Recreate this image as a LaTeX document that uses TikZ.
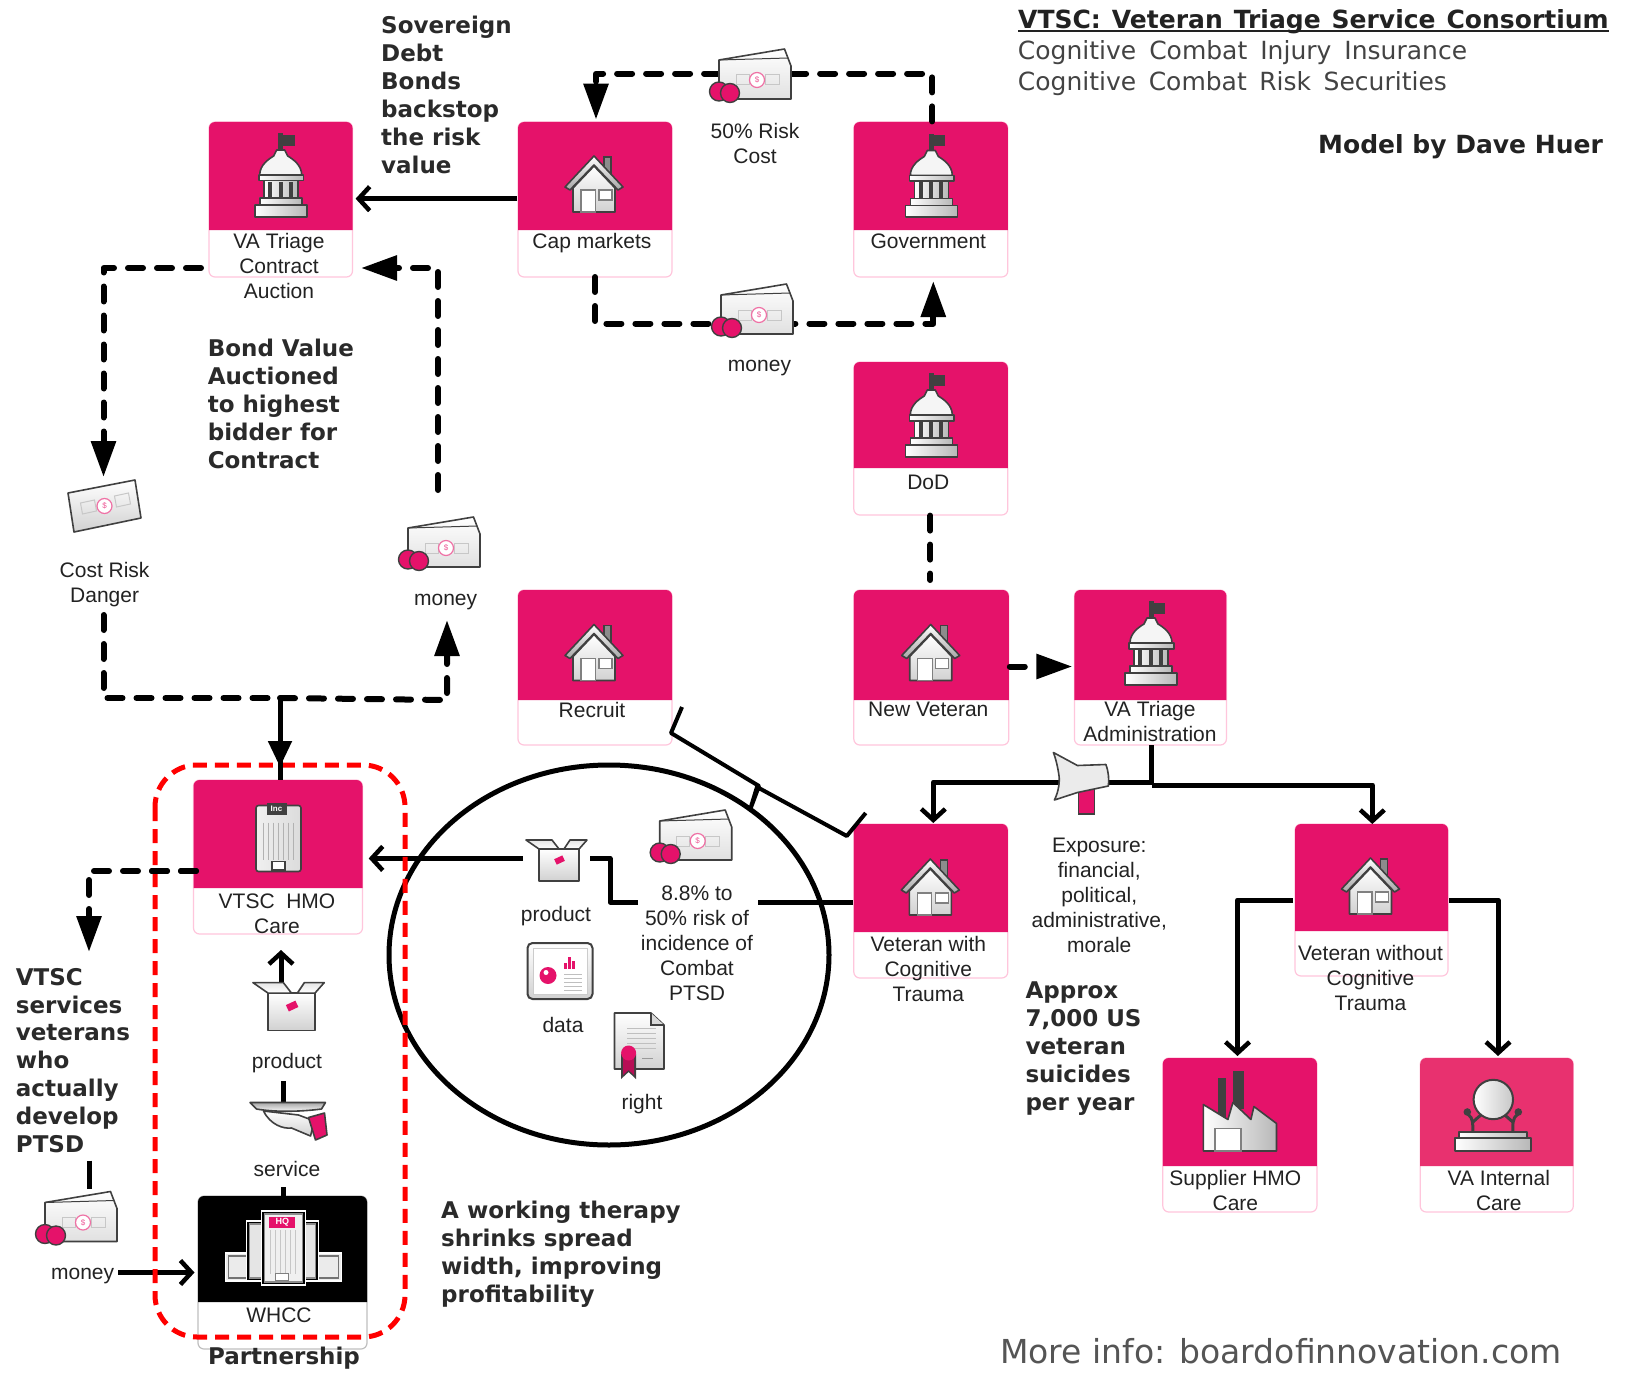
\documentclass[tikz,border=0pt]{standalone}
\usepackage{fontspec}
\setmainfont{Liberation Sans}
\newfontfamily\dv{DejaVu Sans}
\usetikzlibrary{arrows.meta,shapes.geometric}
\definecolor{cpink}{HTML}{E5126A}
\definecolor{clight}{HTML}{E8316F}
\definecolor{cedge}{HTML}{FFC6DC}
\definecolor{icline}{HTML}{404040}
\definecolor{txt}{HTML}{222222}
\definecolor{boldtxt}{HTML}{2A2A2A}
\definecolor{greytxt}{HTML}{555555}
\tikzset{
  card/.style={draw=cedge,line width=1.2pt,fill=white,rounded corners=6pt,inner sep=0pt},
  cardk/.style={draw=black!25,line width=1.2pt,fill=white,rounded corners=6pt,inner sep=0pt},
  lbl/.style={font=\fontsize{21}{25}\selectfont,align=center,inner sep=0pt,text=txt},
  boldlbl/.style={font=\dv\bfseries\fontsize{23}{27.9}\selectfont,align=left,inner sep=0pt,anchor=west,text=boldtxt},
  headlbl/.style={font=\dv\fontsize{25}{30}\selectfont,inner sep=0pt,anchor=west,text=txt!85!white},
  dashline/.style={line width=6pt,line cap=round,line join=round,dash pattern=on 15pt off 14pt},
  dasharrow/.style={dashline,-{Triangle[length=36pt,width=24pt]}},
  solidline/.style={line width=5pt,line join=round},
  barbarrow/.style={solidline,-{Straight Barb[length=11pt,width=24pt,line width=4.5pt]}},
  triarrow/.style={solidline,-{Triangle[length=26pt,width=23pt]}},
  icn/.style={draw=icline,line width=1.6pt,line join=round,top color=white,bottom color=black!18},
  icnh/.style={draw=icline,line width=1.6pt,line join=round,left color=white,right color=black!28},
  capitolicon/.pic={
    \fill[icline] (-2.5,-41.7) rectangle (2.7,-20);
    \fill[icline] (2.7,-40) rectangle (14,-29);
    \path[draw=icline,line width=1.6pt,line join=round,fill=black!4] (-21,0) .. controls (-21,-10) and (-12,-16) .. (-7,-19) -- (-4,-25) -- (4,-25) -- (7,-19) .. controls (12,-16) and (21,-10) .. (21,0) -- cycle;
    \path[icnh] (-22,0) rectangle (22.7,5.7);
    \path[icnh] (-17,5.7) rectangle (17,24);
    \foreach \cx in {-10.7,0,10} {\fill[icline] (\cx-2,7) rectangle (\cx+2,23);}
    \path[icnh] (-21,23) rectangle (21,30);
    \path[icnh] (-26,30) rectangle (26,41.7);
  },
  houseicon/.pic={
    \draw[icline,fill=black!45,line width=1.2pt] (10,-27) rectangle (17,-10);
    \path[icn] (-21,4) -- (0,-18) -- (21,4) -- (21,28) -- (-21,28) -- cycle;
    \path[icn,bottom color=black!35] (-29,3) -- (0,-28) -- (29,3) -- (24,6) -- (0,-19) -- (-24,6) -- cycle;
    \draw[black!50,line width=1.2pt,fill=white] (-13,6) rectangle (1.5,28);
    \draw[black!50,line width=1.2pt,fill=white] (5,6) rectangle (18,16);
  },
  moneyicon/.pic={
    \path[icn,top color=white,bottom color=black!12] (-31,-16) -- (34.5,-27) -- (41,-10) -- (41,23) -- (-31,23) -- cycle;
    \draw[icline,line width=1pt] (-31,-16) -- (38,-18);
    \draw[black!22,line width=1pt] (-14,-1) rectangle (-1,9);
    \draw[black!22,line width=1pt] (15,-1) rectangle (29,9);
    \draw[cpink!60,line width=1.2pt,fill=white] (7,4) circle[radius=7.5];
    \node[inner sep=0pt,text=cpink!70,font=\fontsize{8}{8}\selectfont] (dollar) at (7,4) {\$};
    \draw[icline,line width=1.4pt,fill=cpink] (-31,15.5) circle[radius=9.5];
    \draw[icline,line width=1.4pt,fill=cpink] (-20,17) circle[radius=9.5];
  },
  billicon/.pic={
    \path[icn] (-36.5,-13) -- (30.5,-26) -- (36.5,12) -- (-30.5,26) -- cycle;
    \draw[black!22,line width=1pt] (-24,-3) -- (-10,-6) -- (-8,5) -- (-22,8) -- cycle;
    \draw[black!22,line width=1pt] (10,-10) -- (24,-13) -- (26,-2) -- (12,1) -- cycle;
    \draw[cpink!60,line width=1.2pt,fill=white] (0,0) circle[radius=7.5];
    \node[inner sep=0pt,text=cpink!70,font=\fontsize{8}{8}\selectfont] (dollar) at (0,0) {\$};
  },
  boxicon/.pic={
    \path[icn] (-17,-11) rectangle (23,21);
    \path[icn,top color=black!10,bottom color=white] (-30,-20) -- (-4,-20) -- (3,-11) -- (-17,-11) -- cycle;
    \path[icn,top color=black!10,bottom color=white] (14,-20) -- (31,-20) -- (23,-11) -- (8,-11) -- cycle;
    \fill[cpink,rotate around={25:(3.6,0)}] (-1,-3) rectangle (8,3);
  },
  dataicon/.pic={
    \draw[icline,line width=2pt,rounded corners=5pt,top color=white,bottom color=black!18] (-32.5,-28) rectangle (32.5,28);
    \draw[black!20,line width=1pt,fill=white] (-27,-23) rectangle (27,23);
    \fill[cpink] (-12,4.5) circle[radius=8.5];
    \fill[white] (-14,1.5) circle[radius=2.5];
    \fill[cpink] (4,-8) rectangle (7,-2);
    \fill[cpink] (8,-14) rectangle (11,-2);
    \fill[cpink] (12,-10) rectangle (15,-2);
    \foreach \ly in {3,7,11,15,19} {\draw[black!25,line width=1pt] (4,\ly) -- (22,\ly);}
  },
  certicon/.pic={
    \path[icn] (-24.5,-33) -- (12,-33) -- (25,-21) -- (25,23) -- (-24.5,23) -- cycle;
    \draw[icline,line width=1.2pt,fill=black!15] (12,-33) -- (12,-21) -- (25,-21);
    \foreach \ly in {-18,-13,-8,-3,2} {\draw[black!25,line width=1pt] (-12,\ly) -- (17,\ly);}
    \draw[black!40,line width=1pt] (3,12) -- (14,12);
    \fill[icline] (-18,8) -- (-18,33) -- (-10.4,26) -- (-3,33) -- (-3,8) -- cycle;
    \fill[cpink!80!black] (-16,10) -- (-16,29) -- (-10.4,24) -- (-5,29) -- (-5,10) -- cycle;
    \fill[cpink] (-10.4,7) circle[radius=7.5];
  },
  trayicon/.pic={
    \path[icn] (-25,-10) .. controls (-18,4) and (-5,8) .. (3,7) -- (22,15) -- (26,0) -- (10,-6) -- cycle;
    \path[icn,fill=cpink,top color=cpink,bottom color=cpink] (20,-3.5) -- (36,-8) -- (38.5,14) -- (27,19) -- cycle;
    \path[icn,top color=black!35,bottom color=white] (-38.5,-18.5) -- (37,-18.5) -- (33,-12) .. controls (10,-9) and (-15,-9) .. (-32,-12) -- cycle;
  },
  megaicon/.pic={
    \fill[cpink] (-1.5,9) -- (14.5,6) -- (14.5,31) -- (-1.5,31) -- cycle;
    \draw[icline,line width=1.6pt] (-1.5,9) -- (-1.5,31) -- (14.5,31) -- (14.5,6);
    \path[draw=icline,line width=1.6pt,line join=round,fill=black!8] (-2.5,-17.5) -- (26,-18.5) .. controls (29,-10) and (29,-4) .. (28.5,3) -- (-2.5,9.5) -- (-25.5,17) .. controls (-21,8) and (-20,-2) .. (-21,-8) .. controls (-22,-15) and (-24,-24) .. (-26.5,-30.5) -- cycle;
  },
  factoryicon/.pic={
    \fill[icline] (-22,-33) rectangle (-14,8);
    \fill[icline] (-7,-40) rectangle (4,-2);
    \path[icnh] (-36.6,-6) -- (-12,9) -- (-7,-8) -- (11,9) -- (14,-4) -- (36.6,13) -- (36.6,40.5) -- (-36.6,40.5) -- cycle;
    \draw[black!50,line width=1.2pt,fill=white] (-25,17.6) rectangle (1,40.5);
  },
  mirroricon/.pic={
    \draw[icline,line width=3pt] (-25,2) .. controls (-19,6) and (-20,14) .. (-20,20);
    \draw[icline,line width=3pt] (25,2) .. controls (19,6) and (20,14) .. (20,20);
    \draw[icline,line width=3pt] (-20,10) -- (-12,3);
    \draw[icline,line width=3pt] (20,10) -- (12,3);
    \fill[icline] (-25.5,0) circle[radius=3.8];
    \fill[icline] (25.5,0) circle[radius=3.8];
    \path[icnh,line width=2pt,left color=white,right color=black!22] (0.5,-12.5) circle[radius=19.7];
    \path[icnh] (-34,20) rectangle (34,26);
    \path[icnh] (-38,26) rectangle (38,39);
  },
  towericon/.pic={
    \path[icn,left color=black!6,right color=black!14,draw=icline,rounded corners=2.5pt] (-22,-31) rectangle (23,35);
    \foreach \tx in {-15,-10,-5,0,5,10,15} {\draw[black!30,line width=1pt] (\tx,-14) -- (\tx,23);}
    \fill[icline] (-11.5,-33.5) rectangle (8.5,-21.5);
    \node[inner sep=0pt,text=white,font=\bfseries\fontsize{8}{8}\selectfont] (incname) at (-1.5,-27.5) {Inc};
    \draw[icline,line width=1.2pt,fill=white] (-6,25) rectangle (7,33.5);
  },
  hqicon/.pic={
    \draw[white,line width=1.4pt,fill=black!8] (-58,5) rectangle (58,33);
    \draw[black!55,line width=1.4pt] (-55,8) rectangle (55,30);
    \draw[white,line width=1.4pt,fill=black] (-37,-27) rectangle (35,33);
    \draw[black!45,line width=1.4pt,fill=black!10] (-34,-24) rectangle (32,30);
    \draw[white,line width=1.4pt,fill=black] (-22,-37) rectangle (22,37);
    \draw[black!45,line width=1.4pt,fill=black!6] (-19,-34) rectangle (19,34);
    \foreach \tx in {-13,-8,-3,2,7,12} {\draw[black!22,line width=1pt] (\tx,-18) -- (\tx,26);}
    \fill[cpink] (-14,-31) rectangle (12,-20);
    \node[inner sep=0pt,text=white,font=\bfseries\fontsize{9}{9}\selectfont] (hqname) at (-1,-25.5) {HQ};
    \draw[black!50,line width=1pt,fill=white] (-8,25) rectangle (5,32);
  },
}
\newcommand{\vcard}[7]{%
  \node[card,minimum width={(#4-#2)*1pt},minimum height={(#5-#3)*1pt}] (#1) at ({(#2+#4)/2},{(#3+#5)/2}) {};
  \fill[#7] (#2,#6) {[rounded corners=6pt] -- (#2,#3) -- (#4,#3)} -- (#4,#6) -- cycle;
}
\begin{document}
\begin{tikzpicture}[x=1pt,y=-1pt]
\useasboundingbox (0,0) rectangle (1635,1375);
\fill[white] (0,0) rectangle (1635,1375);
% cards
\vcard{auction}{209}{122}{352.5}{277}{230}{cpink}
\vcard{cap}{518}{122}{672}{277}{230}{cpink}
\vcard{gov}{853.8}{122}{1007.8}{277}{230}{cpink}
\vcard{dod}{853.8}{362}{1007.8}{515}{468}{cpink}
\vcard{recruit}{518}{590}{672}{745}{700}{cpink}
\vcard{newvet}{853.8}{590}{1008.8}{745}{700}{cpink}
\vcard{admin}{1074.4}{590}{1226.4}{745}{700}{cpink}
\vcard{vetwith}{853.8}{824}{1007.8}{978}{932}{cpink}
\vcard{vetwo}{1295}{824}{1448}{976}{931}{cpink}
\vcard{supplier}{1162.8}{1058}{1316.9}{1212}{1166}{cpink}
\vcard{internal}{1420.2}{1058}{1573.3}{1212}{1166}{clight}
\vcard{hmo}{193.5}{780}{362.5}{934}{888}{cpink}
\node[cardk,minimum width=169pt,minimum height=153pt] (whcc) at (282.5,1272.5) {};
\fill[black] (198,1302) {[rounded corners=6pt] -- (198,1196) -- (367,1196)} -- (367,1302) -- cycle;
% circle
\node[draw,ellipse,line width=5pt,minimum width=440pt,minimum height=380pt,inner sep=0pt] (circ) at (609,955) {};
% named anchors
\coordinate (mtop) at (750,73.6);
\coordinate (mlow) at (752,323.6);
\coordinate (jleft) at (280,698);
\coordinate (bottomleft) at (103.5,698);
\coordinate (moneyfoot) at (447,620);
\coordinate (costfoot) at (103.5,615);
\coordinate (billtop) at (103.5,477);
\coordinate (mhead) at (438,490);
\coordinate (lefthit) at (201,268);
\coordinate (righthit) at (361,268);
\coordinate (hmohit) at (196,871);
\coordinate (downtip) at (89,952);
\coordinate (prodl) at (523,858.4);
\coordinate (prodr) at (590,858.4);
\coordinate (prodk) at (610,858.4);
\coordinate (riskl) at (638,902);
\coordinate (riskk) at (610,902);
\coordinate (riskr) at (758,902);
\coordinate (moneyline) at (118,1272.5);
% connectors
\draw[dasharrow] ([xshift=1.5pt]gov.north) |- (mtop) -| (596,119.6);
\draw[dasharrow] (595,277) |- (mlow) -| (933.3,281);
\draw[solidline,-{Straight Barb[length=11pt,width=24pt,line width=4.5pt]}] (cap.west |- 0,198.7) -- (355.6,198.7);
\draw[dasharrow] (lefthit) -| (billtop);
\draw[dasharrow] (mhead) |- (righthit);
\draw[dashline] (costfoot) -- (bottomleft) -- (jleft);
\draw[dasharrow] (jleft) -- (447,700) -- (moneyfoot);
\draw[triarrow] (jleft) -- (280,767);
\draw[solidline] (280,760) -- (280,780);
\draw[dashline] (dod.south -| 930.3,0) -- (930.3,580);
\draw[dasharrow] (1009.8,666.5) -- (1072.3,666.5);
\draw[solidline] (1151.6,745) -- (1151.6,785);
\draw[barbarrow] (1151.6,782) -| (933.3,823);
\draw[barbarrow] (1151.6,785) -| (1372.3,824);
\draw[barbarrow] (1293,900) -| (1237.5,1056);
\draw[barbarrow] (1449,900) -| (1498,1056);
\draw[line width=4pt,line join=round] (682,707) -- (671,733) -- (759,786) -- (750,810) -- (757,787) -- (846.8,836) -- (865.7,813);
\draw[solidline] (vetwith.west |- riskr) -- (riskr);
\draw[solidline] (riskl) -- (riskk) -- (prodk) -- (prodr);
\draw[barbarrow] (prodl) -- (368.7,858.4);
\draw[dasharrow] (hmohit) -| (downtip);
\draw[solidline] (89.5,1160.6) -- (89.5,1188.6);
\draw[barbarrow] (moneyline) -- (194.5,1272.5);
\draw[barbarrow] (281,982) -- (281,950);
\draw[solidline] (283,1081) -- (283,1102);
\draw[solidline] (283,1187) -- (283,1196);
% red partnership frame
\draw[red,line width=5pt,rounded corners=42pt,dash pattern=on 14pt off 8pt] (155,765) rectangle (405,1337);
\draw[dashline] (196,871) -- (150,871);
\draw[solidline] (280,760) -- (280,780);
% icons
\pic at (280.7,175) {capitolicon};
\pic at (931.3,175.5) {capitolicon};
\pic at (931.3,415) {capitolicon};
\pic at (1151,643) {capitolicon};
\pic at (594,184) {houseicon};
\pic at (594,652.5) {houseicon};
\pic at (930.7,652.5) {houseicon};
\pic at (930.3,887) {houseicon};
\pic at (1370.5,886) {houseicon};
\pic at (750,76) {moneyicon};
\pic at (752,311) {moneyicon};
\pic at (439,544) {moneyicon};
\pic at (690.7,837) {moneyicon};
\pic at (76,1218.5) {moneyicon};
\pic at (104.5,506) {billicon};
\pic at (556,860) {boxicon};
\pic[scale=1.17] at (288,1006) {boxicon};
\pic at (560,971) {dataicon};
\pic at (639,1046) {certicon};
\pic at (288.5,1121) {trayicon};
\pic at (1079.9,783) {megaicon};
\pic at (1239.9,1110.5) {factoryicon};
\pic at (1492.8,1112) {mirroricon};
\pic at (278,836.5) {towericon};
\pic at (283.3,1248) {hqicon};
% card labels
\node[lbl] (t1) at (279,266) {VA Triage\\Contract\\Auction};
\node[lbl] (t2) at (592,243.5) {Cap markets};
\node[lbl] (t3) at (928.3,241.5) {Government};
\node[lbl] (t4) at (928.3,482) {DoD};
\node[lbl] (t5) at (592,709.5) {Recruit};
\node[lbl] (t6) at (928.3,709.5) {New Veteran};
\node[lbl] (t7) at (1150,721.5) {VA Triage\\Administration};
\node[lbl] (t8) at (928.3,968.6) {Veteran with\\Cognitive\\Trauma};
\node[lbl] (t9) at (1370.5,978) {Veteran without\\Cognitive\\Trauma};
\node[lbl] (t10) at (1235.4,1190) {Supplier HMO\\Care};
\node[lbl] (t11) at (1498.8,1190) {VA Internal\\Care};
\node[lbl] (t12) at (277,914) {VTSC\ \ HMO\\Care};
\node[lbl] (t13) at (279,1315) {WHCC};
% offering labels
\node[lbl] (t14) at (755,143.5) {50\% Risk\\Cost};
\node[lbl] (t15) at (759.5,368) {money};
\node[lbl] (t16) at (104.6,584.5) {Cost Risk\\Danger};
\node[lbl] (t17) at (445.6,602.5) {money};
\node[lbl] (t18) at (1099.3,895) {Exposure:\\financial,\\political,\\administrative,\\morale};
\node[lbl] (t19) at (287,1063) {product};
\node[lbl] (t20) at (287,1169) {service};
\node[lbl] (t21) at (82.6,1276.5) {money};
\node[lbl] (t22) at (556,916) {product};
\node[lbl] (t23) at (563,1025) {data};
\node[lbl] (t24) at (642,1104.5) {right};
\node[lbl] (t25) at (697,943.5) {8.8\% to\\50\% risk of\\incidence of\\Combat\\PTSD};
% bold notes
\node[boldlbl] (b1) at (381,95) {Sovereign\\Debt\\Bonds\\backstop\\the risk\\value};
\node[boldlbl] (b2) at (207.6,404) {Bond Value\\Auctioned\\to highest\\bidder for\\Contract};
\node[boldlbl] (b3) at (1025.3,1048.5) {Approx\\7,000 US\\veteran\\suicides\\per year};
\node[boldlbl] (b4) at (15.7,1060.5) {VTSC\\services\\veterans\\who\\actually\\develop\\PTSD};
\node[boldlbl] (b5) at (441,1254.5) {A working therapy\\shrinks spread\\width, improving\\profitability};
\node[boldlbl,anchor=center] (b6) at (284,1358.5) {Partnership};
% heading
\node[headlbl,font=\dv\bfseries\fontsize{25}{30}\selectfont,text=txt] (h1) at (1018,21.5) {\spaceskip=11pt\relax VTSC: Veteran Triage Service Consortium};
\draw[txt,line width=1.6pt] (h1.west |- 0,31) -- (h1.east |- 0,31);
\node[headlbl] (h2) at (1017.7,53) {\spaceskip=13pt\relax Cognitive Combat Injury Insurance};
\node[headlbl] (h3) at (1017.7,84) {\spaceskip=12.5pt\relax Cognitive Combat Risk Securities};
\node[headlbl,font=\dv\bfseries\fontsize{25}{30}\selectfont,text=txt] (h4) at (1318,146.5) {Model by Dave Huer};
\node[headlbl,font=\dv\fontsize{33}{36}\selectfont,text=greytxt] (h5) at (1000,1351) {More info: boardofinnovation.com};
\end{tikzpicture}
\end{document}
